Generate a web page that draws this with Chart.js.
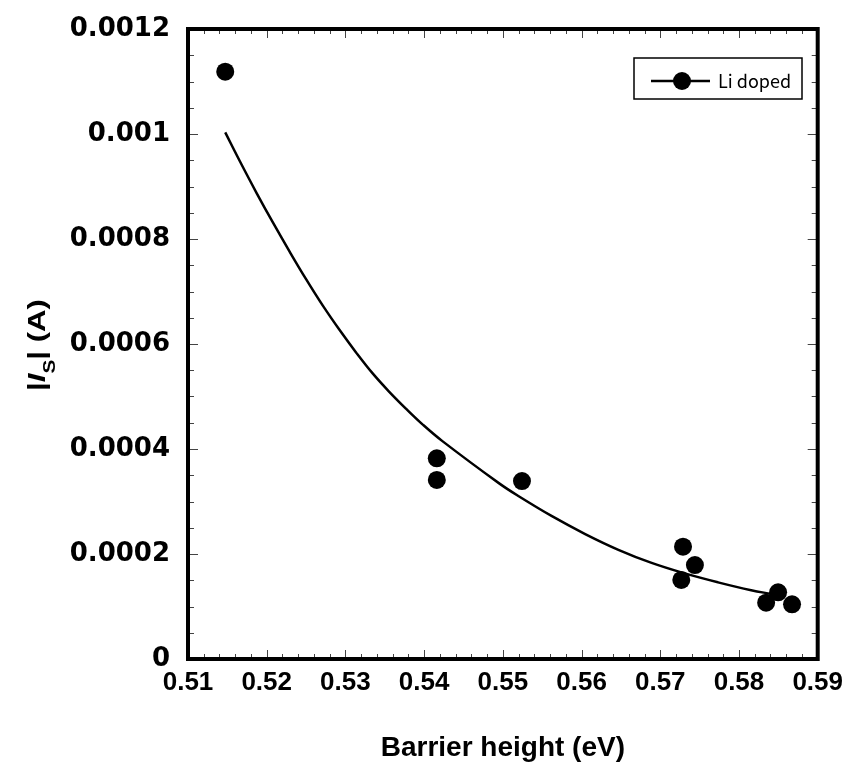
<!DOCTYPE html>
<html lang="en">
<head>
  <meta charset="UTF-8">
  <title>Saturation current vs barrier height</title>
  <style>
    html, body {
      margin: 0;
      padding: 0;
      background: #ffffff;
    }
    canvas {
      display: block;
    }
  </style>
</head>
<body>
  <canvas id="isChart" width="851" height="769"></canvas>

  <script src="https://cdn.jsdelivr.net/npm/chart.js"></script>
  <script>
    // measured points
    const barrierHeight = [0.51473, 0.54161, 0.54161, 0.55243, 0.57289, 0.5744, 0.57267, 0.58497, 0.58345, 0.58674];
    const currentIs = [0.0011187, 0.0003823, 0.000341, 0.000339, 0.000214, 0.000179, 0.0001505, 0.000127, 0.0001072, 0.0001042];

    // fitted curve
    const fitX = [0.51473, 0.51659, 0.5187, 0.5208, 0.52291, 0.52502, 0.52713, 0.52924, 0.53135, 0.53346, 0.53557, 0.53768,
                  0.53979, 0.54232, 0.54949, 0.55202, 0.55624, 0.56046, 0.56468, 0.5689, 0.57312, 0.57734, 0.58155, 0.58409];
    const fitY = [0.001003, 0.000948, 0.000888, 0.000831, 0.000776, 0.000723, 0.000673, 0.000627, 0.000584, 0.000544, 0.000509, 0.000477,
                  0.000447, 0.000415, 0.000335, 0.00031, 0.000272, 0.000238, 0.000208, 0.000183, 0.000163, 0.000146, 0.000131, 0.000124];

    const xTickLabels = ['0.51', '0.52', '0.53', '0.54', '0.55', '0.56', '0.57', '0.58', '0.59'];
    const yTickLabels = ['0', '0.0002', '0.0004', '0.0006', '0.0008', '0.001', '0.0012'];

    const seriesLabel = 'Li doped';
    const xTitle = 'Barrier height (eV)';

    const points = barrierHeight.map((x, i) => ({ x: x, y: currentIs[i] }));
    const curve = fitX.map((x, i) => ({ x: x, y: fitY[i] }));

    // inward ticks on all four sides, with minor ticks in between
    const innerTicks = {
      id: 'innerTicks',
      beforeDatasetsDraw(chart) {
        const { ctx, chartArea: a, scales } = chart;
        ctx.save();
        ctx.strokeStyle = '#444';
        ctx.lineWidth = 1;

        function ticksFor(scale, minorCount) {
          const vals = scale.ticks.map(t => t.value);
          const out = [];
          for (let i = 0; i < vals.length; i++) {
            out.push({ v: vals[i], major: true });
            if (i < vals.length - 1) {
              for (let k = 1; k < minorCount; k++) {
                out.push({ v: vals[i] + (vals[i + 1] - vals[i]) * k / minorCount, major: false });
              }
            }
          }
          return out;
        }

        ctx.beginPath();
        ticksFor(scales.x, 5).forEach(t => {
          const px = Math.round(scales.x.getPixelForValue(t.v)) + 0.5;
          const len = t.major ? 9 : 5;
          ctx.moveTo(px, a.bottom); ctx.lineTo(px, a.bottom - len);
          ctx.moveTo(px, a.top); ctx.lineTo(px, a.top + len);
        });
        ticksFor(scales.y, 4).forEach(t => {
          const py = Math.round(scales.y.getPixelForValue(t.v)) + 0.5;
          const len = t.major ? 10 : 6;
          ctx.moveTo(a.left, py); ctx.lineTo(a.left + len, py);
          ctx.moveTo(a.right, py); ctx.lineTo(a.right - len, py);
        });
        ctx.stroke();
        ctx.restore();
      },
      afterDatasetsDraw(chart) {
        const { ctx, chartArea: a } = chart;
        ctx.save();
        ctx.strokeStyle = '#000';
        ctx.lineWidth = 4;
        ctx.strokeRect(a.left, a.top, a.right - a.left, a.bottom - a.top);
        ctx.restore();
      }
    };

    // legend box: line with a dot, then the series name
    const boxLegend = {
      id: 'boxLegend',
      afterDraw(chart) {
        const ctx = chart.ctx;
        const ds = chart.data.datasets[0];
        ctx.save();
        ctx.strokeStyle = '#000';
        ctx.lineWidth = 1.5;
        ctx.strokeRect(634, 58, 168, 41);

        ctx.lineWidth = 2.5;
        ctx.beginPath();
        ctx.moveTo(651, 81);
        ctx.lineTo(710, 81);
        ctx.stroke();

        ctx.fillStyle = ds.backgroundColor;
        ctx.beginPath();
        ctx.arc(682, 81, ds.pointRadius, 0, Math.PI * 2);
        ctx.fill();

        ctx.fillStyle = '#000';
        ctx.font = '18px "Noto Sans CJK JP"';
        ctx.textBaseline = 'middle';
        ctx.textAlign = 'left';
        ctx.fillText(ds.label, 718, 81);
        ctx.restore();
      }
    };

    // y title |I_S| (A) with italic I and subscript S
    const yTitle = {
      id: 'yTitle',
      afterDraw(chart) {
        const ctx = chart.ctx;
        const parts = [
          { t: '|', f: 'bold 24px "Liberation Sans"', dy: 0 },
          { t: 'I', f: 'italic bold 24px "Liberation Sans"', dy: 0 },
          { t: 'S', f: 'bold 16px "Liberation Sans"', dy: 10 },
          { t: '| (A)', f: 'bold 24px "Liberation Sans"', dy: 0 }
        ];
        ctx.save();
        ctx.translate(45, 345);
        ctx.rotate(-Math.PI / 2);
        ctx.scale(1.3, 1);
        ctx.fillStyle = '#000';
        ctx.textBaseline = 'alphabetic';
        ctx.textAlign = 'left';
        let total = 0;
        parts.forEach(p => { ctx.font = p.f; p.w = ctx.measureText(p.t).width; total += p.w; });
        let x = -total / 2;
        parts.forEach(p => {
          ctx.font = p.f;
          ctx.fillText(p.t, x, p.dy);
          x += p.w;
        });
        ctx.restore();
      }
    };

    const ctx = document.getElementById('isChart').getContext('2d');
    new Chart(ctx, {
      data: {
        datasets: [
          {
            type: 'scatter',
            label: seriesLabel,
            data: points,
            backgroundColor: '#000',
            borderWidth: 0,
            pointRadius: 9,
            pointHoverRadius: 9,
            order: 1
          },
          {
            type: 'line',
            label: 'fit',
            data: curve,
            borderColor: '#000',
            borderWidth: 2.5,
            pointRadius: 0,
            fill: false,
            tension: 0.4,
            order: 2
          }
        ]
      },
      options: {
        responsive: false,
        animation: false,
        devicePixelRatio: 1,
        layout: { autoPadding: false, padding: { top: 29, right: 32, left: 0, bottom: 0 } },
        plugins: {
          legend: { display: false },
          tooltip: { enabled: false }
        },
        scales: {
          x: {
            type: 'linear',
            position: 'bottom',
            min: 0.51,
            max: 0.59,
            grid: { display: false, drawTicks: false },
            border: { display: false },
            ticks: {
              stepSize: 0.01,
              padding: 8,
              color: '#000',
              maxRotation: 0,
              autoSkip: false,
              font: { family: 'Liberation Sans', size: 26, weight: 'bold' },
              callback: (v, i) => xTickLabels[i]
            },
            title: {
              display: true,
              text: xTitle,
              color: '#000',
              padding: { top: 0, bottom: 4 },
              font: { family: 'Liberation Sans', size: 28, weight: 'bold' }
            },
            afterFit(scale) { scale.height = 110; }
          },
          y: {
            type: 'linear',
            position: 'left',
            min: 0,
            max: 0.0012,
            grid: { display: false, drawTicks: false },
            border: { display: false },
            ticks: {
              stepSize: 0.0002,
              padding: 18,
              color: '#000',
              font: { family: 'DejaVu Sans', size: 26, weight: 'bold' },
              callback: (v, i) => yTickLabels[i]
            },
            afterFit(scale) {
              scale.width = 188;
              // labels overhang the top edge; keep the plot frame where it is
              scale.paddingTop = 0;
              scale.paddingBottom = 0;
            }
          }
        }
      },
      plugins: [innerTicks, boxLegend, yTitle]
    });
  </script>
</body>
</html>
